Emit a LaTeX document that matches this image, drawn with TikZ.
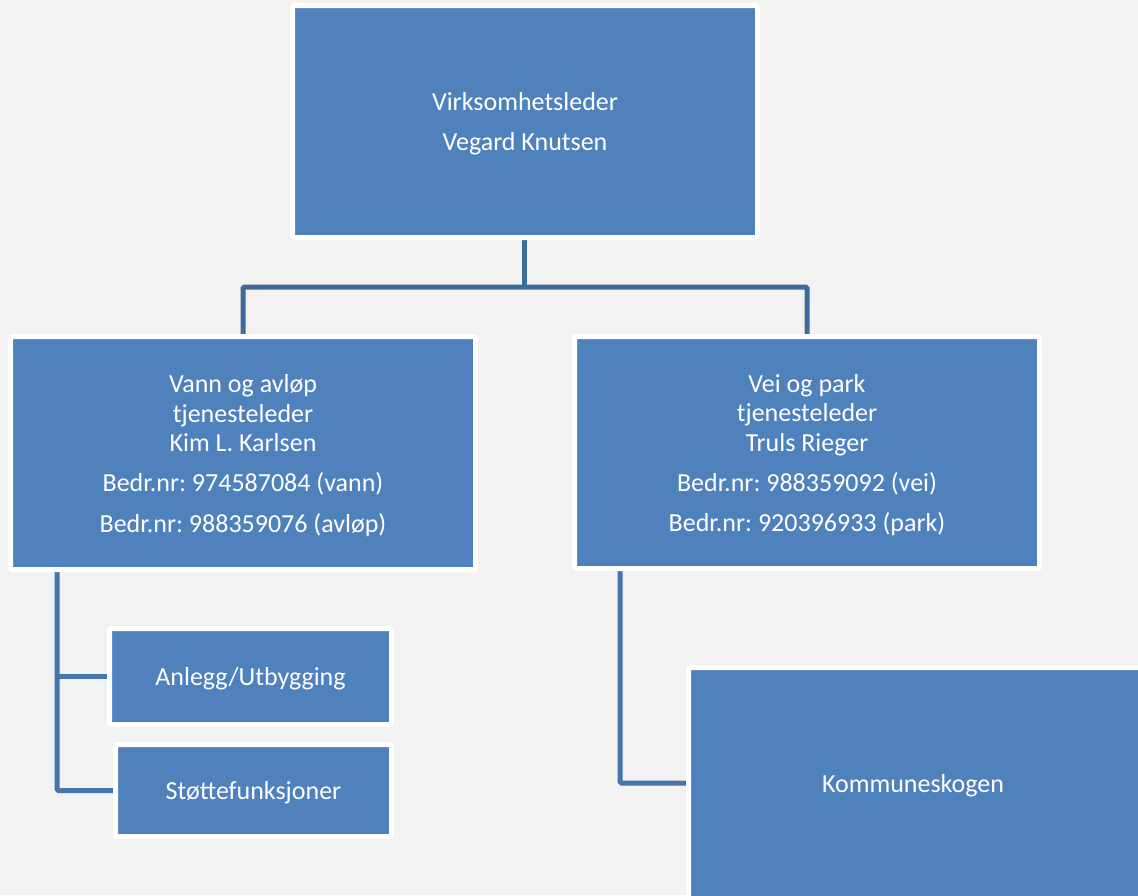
\documentclass[tikz,border=0pt]{standalone}
\usepackage{fontspec}
\setmainfont{Carlito}
\usetikzlibrary{backgrounds}
\frenchspacing
\definecolor{bg}{HTML}{F2F2F2}
\definecolor{boxblue}{HTML}{4F81BD}
\definecolor{treeblue}{HTML}{3F6A9C}
\definecolor{subblue}{HTML}{4675AE}
\newcommand\topstrutx{\rule{0pt}{23pt}}
\tikzset{
  orgbox/.style={draw=white, line width=5pt, fill=boxblue, rounded corners=2pt,
    text=white, align=center, inner sep=0pt,
    font=\fontsize{26}{29.5}\selectfont},
  treeline/.style={draw=treeblue, line width=5pt, rounded corners=1.5pt},
  subline/.style={draw=subblue, line width=5pt, rounded corners=1.5pt}
}
\begin{document}
\begin{tikzpicture}[x=1pt, y=-1pt]
\useasboundingbox (0,0) rectangle (1138,895);
\begin{scope}
\clip (0,0) rectangle (1138,895);
\node[orgbox, minimum width=465pt, minimum height=232pt] (top) at (525,121.5)
  {\topstrutx Virksomhetsleder\\[10.5pt]Vegard Knutsen};
\node[orgbox, minimum width=465pt, minimum height=233pt] (left) at (243,453)
  {\topstrutx Vann og avløp\\tjenesteleder\\Kim L. Karlsen\\[10.5pt]Bedr.nr: 974587084 (vann)\\[11pt]Bedr.nr: 988359076 (avløp)};
\node[orgbox, minimum width=465pt, minimum height=232pt] (right) at (807,452.5)
  {\topstrutx Vei og park\\tjenesteleder\\Truls Rieger\\[10.5pt]Bedr.nr: 988359092 (vei)\\[11pt]Bedr.nr: 920396933 (park)};
\node[orgbox, minimum width=282pt, minimum height=96pt] (anlegg) at (250.5,676.5)
  {\topstrutx Anlegg/Utbygging};
\node[orgbox, minimum width=276pt, minimum height=92pt] (stotte) at (253.5,790.5)
  {\topstrutx Støttefunksjoner};
\node[orgbox, minimum width=480pt, minimum height=231pt] (kommune) at (928.5,783)
  {\hspace*{-31pt}\topstrutx Kommuneskogen};
\end{scope}
\coordinate (j) at (524,287);
\coordinate (lx) at (57,0);
\coordinate (rx) at (620,0);
\begin{pgfonlayer}{background}
\fill[bg] (0,0) rectangle (1138,895);
\draw[treeline] (top.south -| j) -- (j);
\draw[treeline] (left.north) |- (j) -| (right.north);
\draw[subline] (left.south -| lx) |- (stotte.west);
\draw[subline] (lx |- anlegg.west) -- (anlegg.west);
\draw[subline] (right.south -| rx) |- (kommune.west);
\end{pgfonlayer}
\end{tikzpicture}
\end{document}
